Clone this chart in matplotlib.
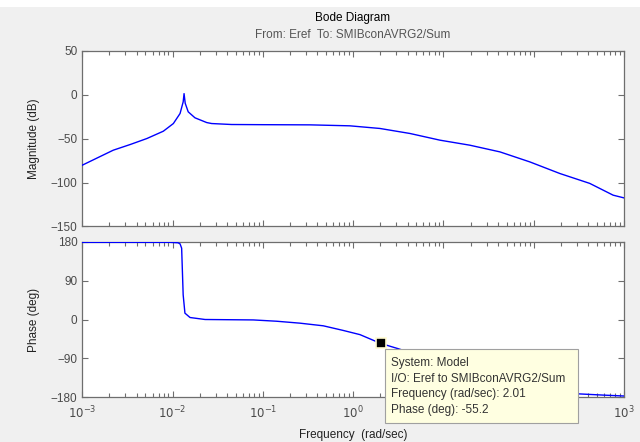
import matplotlib
matplotlib.use("Agg")
import matplotlib.pyplot as plt
from matplotlib.patches import Rectangle
from matplotlib.ticker import LogLocator, NullFormatter, FixedLocator

plt.rcParams['font.family'] = ['Liberation Sans', 'DejaVu Sans']

# Magnitude response (rad/sec, dB)
mag_freq = [0.001, 0.0022, 0.0034, 0.0052, 0.0079, 0.0102, 0.0121, 0.0131,
            0.0134, 0.0138, 0.0149, 0.0177, 0.0239, 0.0271, 0.045, 0.1,
            0.333, 0.92, 1.98, 4.26, 9.15, 19.6, 42.2, 90.6, 195, 417, 758, 1000]
mag_db = [-80.3, -63.3, -56.8, -50, -41.7, -33, -21.6, -8.4,
          1.0, -10, -19.7, -26.5, -31.9, -33, -34.1, -34.3,
          -34.5, -35.6, -38.6, -44.3, -51.9, -57.6, -65.2, -76.6, -89.8, -101, -114.4, -117.5]

# Phase response (rad/sec, deg)
ph_freq = [0.001, 0.0094, 0.0115, 0.0121, 0.0126, 0.0131, 0.0137, 0.0156,
           0.0229, 0.0783, 0.142, 0.258, 0.467, 0.776, 1.19, 2.01, 3.16,
           8, 20, 50, 120, 310, 600, 1000]
ph_deg = [178.5, 178.5, 177.5, 175, 165, 57, 14.7, 4.6,
          0, -1, -4, -8.5, -14.6, -25.3, -35, -55.2, -67.6,
          -95, -125, -150, -165, -172, -175, -177]

# Data tip
tip_freq = 2.01
tip_phase = -55.2
tip_lines = ["System: Model",
             "I/O: Eref to SMIBconAVRG2/Sum",
             "Frequency (rad/sec): 2.01",
             "Phase (deg): -55.2"]

mag_ticks = [50, 0, -50, -100, -150]
ph_ticks = [180, 90, 0, -90, -180]
x_ticks = [1e-3, 1e-2, 1e-1, 1e0, 1e1, 1e2, 1e3]
# 10^1 and 10^2 sit beneath the data tip box
x_labels = [r'$10^{-3}$', r'$10^{-2}$', r'$10^{-1}$', r'$10^{0}$',
            '', '', r'$10^{3}$']

W, H = 640, 442
fig = plt.figure(figsize=(W / 100, H / 100), dpi=100, facecolor='#f0f0f0')
fig.patches.append(Rectangle((0, 1 - 7 / H), 1, 7 / H, transform=fig.transFigure,
                             facecolor='white', edgecolor='none', zorder=0))

spine_c = '#6e6e6e'
tick_c = '#4a4a4a'
line_c = '#0000ff'

ax1 = fig.add_axes([82.3 / W, 1 - 226.5 / H, (624 - 82.3) / W, 176 / H])
ax2 = fig.add_axes([82.3 / W, 1 - 397.3 / H, (624 - 82.3) / W, 155.6 / H])

for ax in (ax1, ax2):
    ax.set_xscale('log')
    ax.set_xlim(1e-3, 1e3)
    ax.xaxis.set_major_locator(FixedLocator(x_ticks))
    ax.xaxis.set_minor_locator(LogLocator(base=10, subs=range(2, 10), numticks=20))
    ax.xaxis.set_minor_formatter(NullFormatter())
    ax.tick_params(which='both', direction='in', top=True, right=True,
                   colors=spine_c, labelcolor=tick_c, labelsize=8.5, width=0.8)
    ax.tick_params(which='major', length=4)
    ax.tick_params(which='minor', length=3)
    for s in ax.spines.values():
        s.set_color(spine_c)
        s.set_linewidth(0.9)
    ax.set_facecolor('white')

ax1.plot(mag_freq, mag_db, color=line_c, lw=1.0, zorder=3)
ax1.set_ylim(-150, 50)
ax1.set_yticks(mag_ticks)
ax1.set_xticklabels([])
ax1.set_ylabel('Magnitude (dB)', fontsize=8.5, color='#222222')

ax2.plot(ph_freq, ph_deg, color=line_c, lw=1.0, zorder=3)
ax2.set_ylim(-180, 180)
ax2.set_yticks(ph_ticks)
ax2.set_xticklabels(x_labels)
ax2.tick_params(axis='x', pad=5)
ax2.set_ylabel('Phase (deg)', fontsize=8.5, color='#222222')
ax2.yaxis.set_label_coords(-0.078, 0.5)
ax1.yaxis.set_label_coords(-0.078, 0.5)

# data tip marker and box
ax2.plot([tip_freq], [tip_phase], marker='s', ms=7, color='black',
         mec='#fffbd0', mew=1.2, zorder=5, clip_on=False)
box = Rectangle((385 / W, 1 - 423 / H), (578 - 385) / W, (423 - 349) / H,
                transform=fig.transFigure, facecolor='#ffffe1',
                edgecolor='#a0a0a0', lw=0.8, zorder=10)
fig.patches.append(box)
for i, t in enumerate(tip_lines):
    fig.text(391 / W, 1 - (363 + i * 15.5) / H, t, fontsize=8.5, color='#333333',
             va='center', ha='left', zorder=11)

fig.text(353 / W, 1 - 18 / H, 'Bode Diagram', fontsize=8.5, color='black',
         ha='center', va='center')
fig.text(353 / W, 1 - 35 / H, 'From: Eref  To: SMIBconAVRG2/Sum', fontsize=8.5,
         color='#555555', ha='center', va='center')
fig.text(353 / W, 1 - 435 / H, 'Frequency  (rad/sec)', fontsize=8.5,
         color='#222222', ha='center', va='center')

fig.savefig('out.png', dpi=100, facecolor=fig.get_facecolor())
